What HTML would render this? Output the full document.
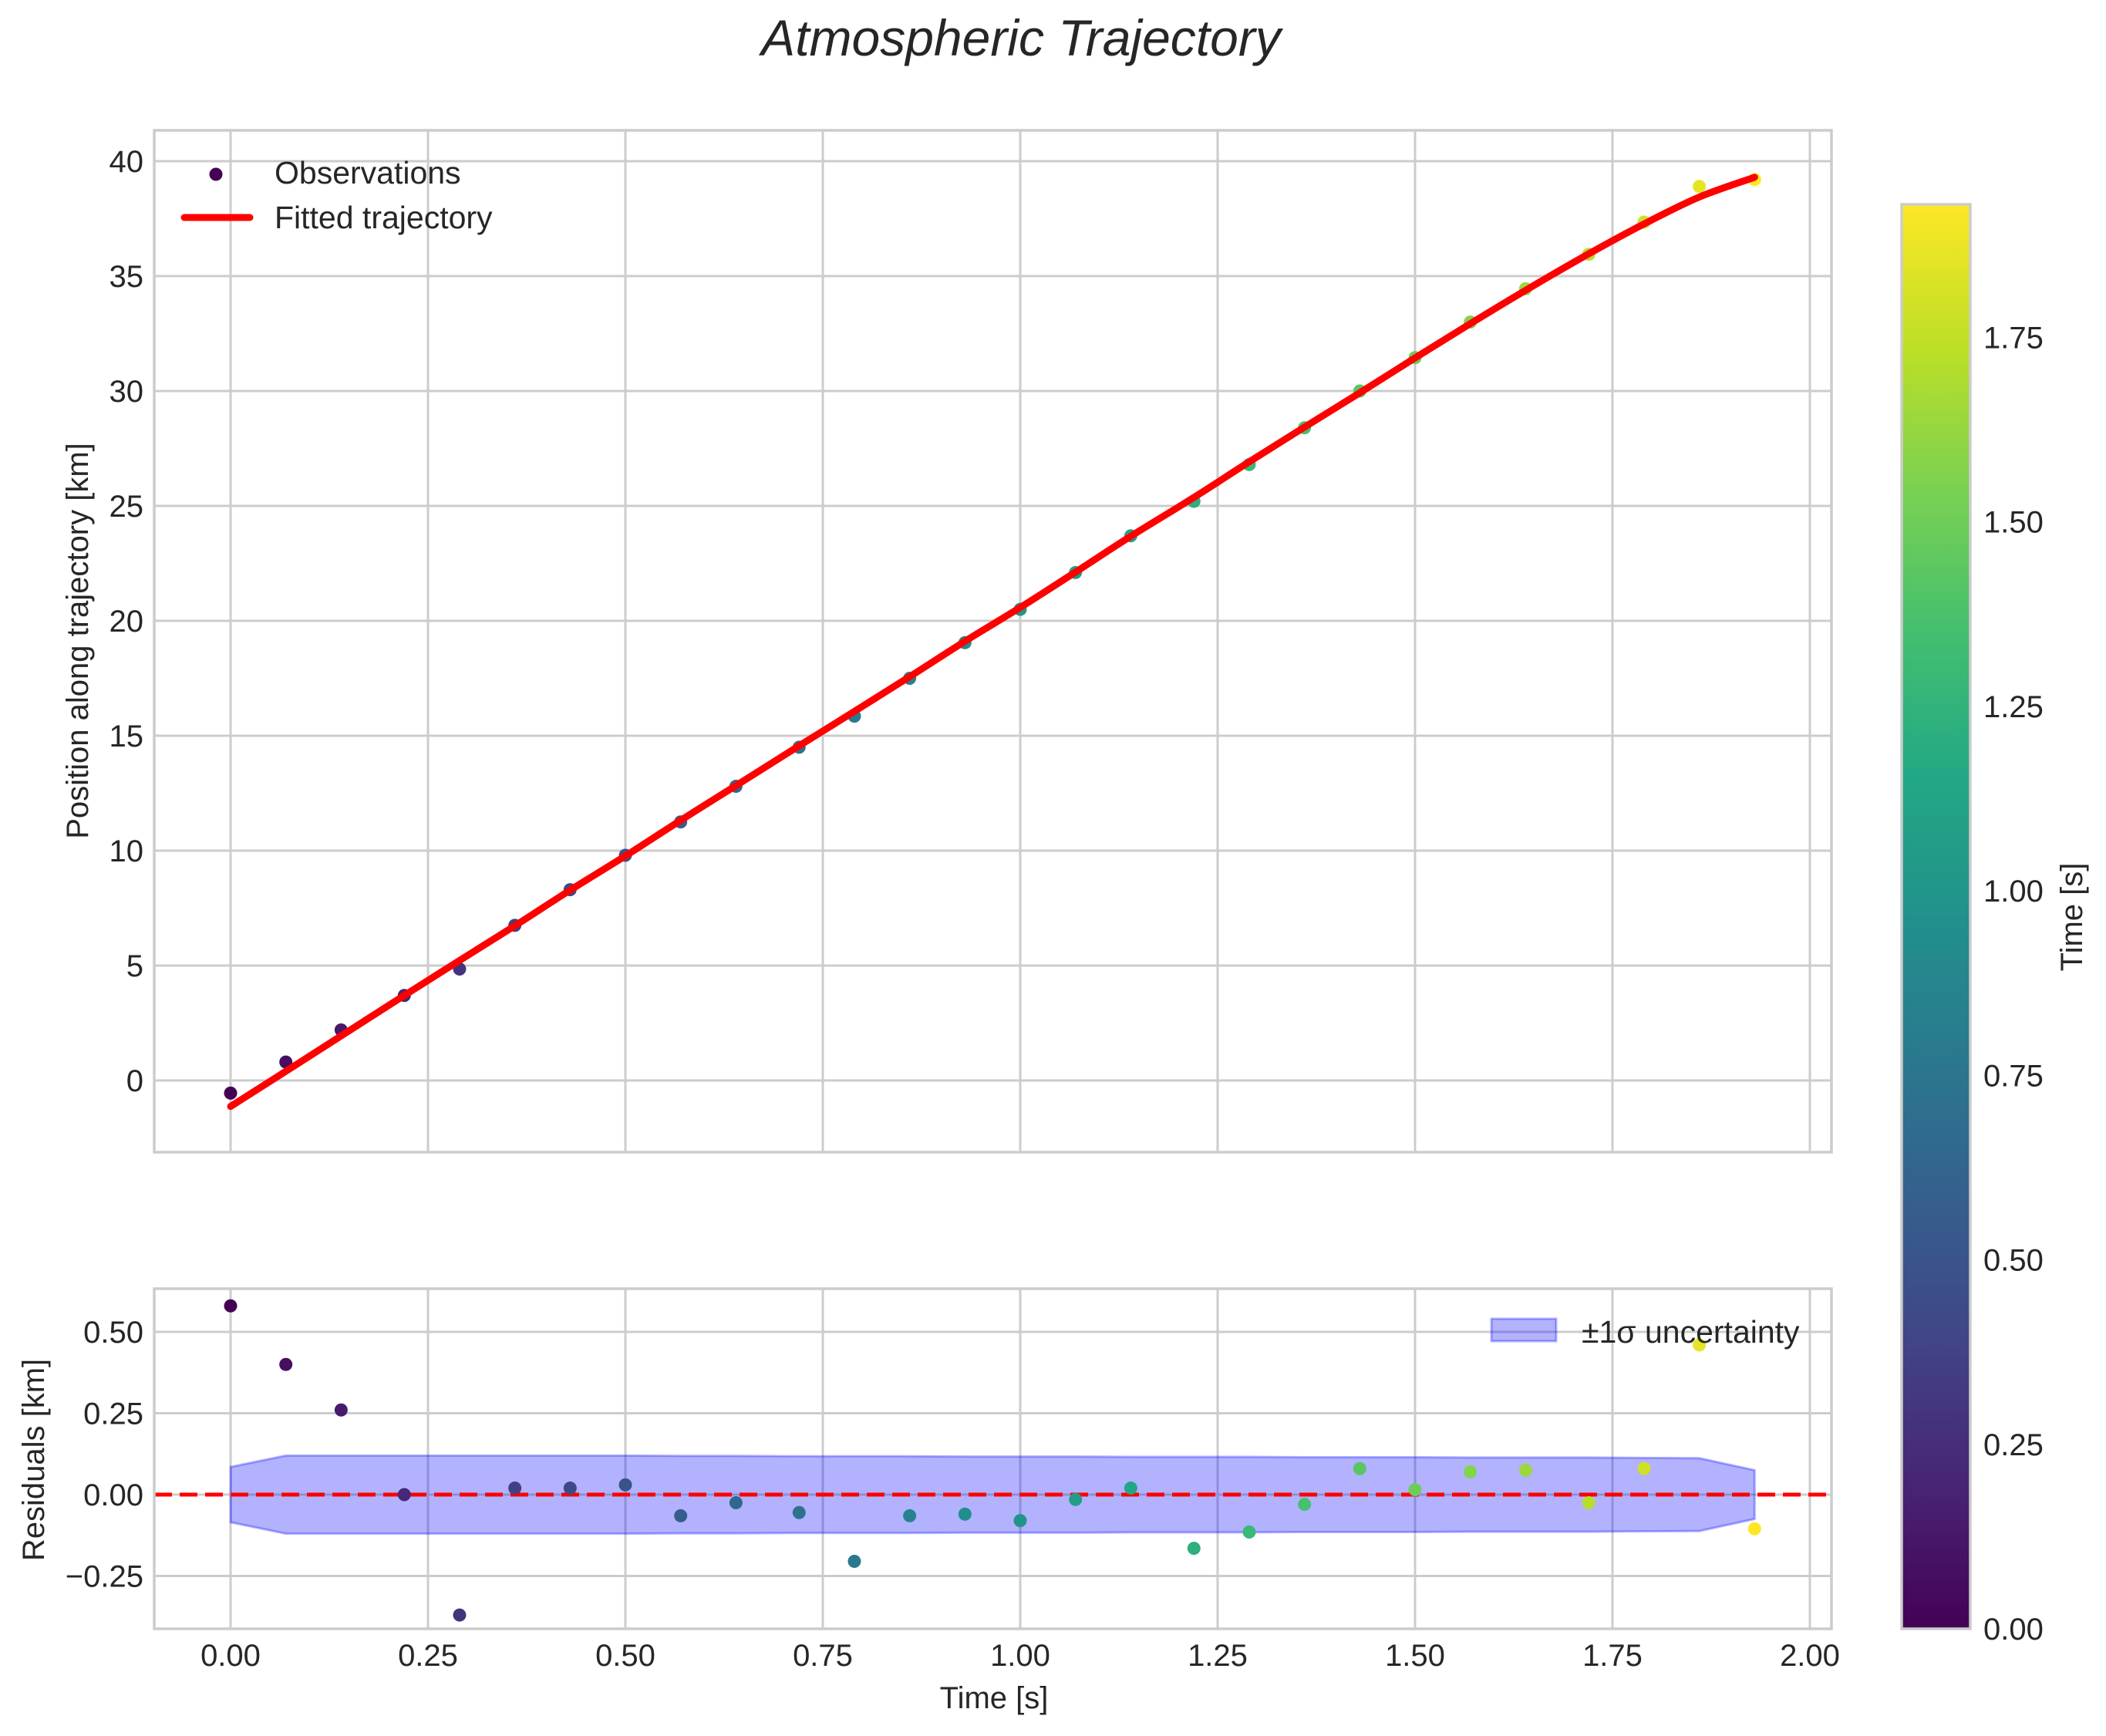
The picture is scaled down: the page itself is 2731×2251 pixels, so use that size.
<!DOCTYPE html>
<html><head><meta charset="utf-8"><style>
html,body{margin:0;padding:0;background:#fff;}
svg text{font-family:"Liberation Sans",sans-serif;fill:#262626;}
</style></head><body>
<svg id="fig" width="2731" height="2246" viewBox="0 0 2731 2246" xmlns="http://www.w3.org/2000/svg">
<defs>
<linearGradient id="vir" x1="0" y1="1" x2="0" y2="0">
<stop offset="0" stop-color="#440154"/><stop offset="0.1" stop-color="#482475"/><stop offset="0.2" stop-color="#414487"/><stop offset="0.3" stop-color="#355f8d"/><stop offset="0.4" stop-color="#2a788e"/><stop offset="0.5" stop-color="#21918c"/><stop offset="0.6" stop-color="#22a884"/><stop offset="0.7" stop-color="#44bf70"/><stop offset="0.8" stop-color="#7ad151"/><stop offset="0.9" stop-color="#bddf26"/><stop offset="1" stop-color="#fde725"/>
</linearGradient>
<clipPath id="clipTop"><rect x="200" y="169" width="2175" height="1325"/></clipPath>
<clipPath id="clipBot"><rect x="200" y="1671" width="2175" height="441"/></clipPath>
</defs>
<text x="1324" y="72" font-size="66" font-style="italic" text-anchor="middle">Atmospheric Trajectory</text>
<g id="topAx"></g>
<g id="botAx"></g>
<g id="cbar"></g>
</svg>
<script>
const times = [0,0.07,0.14,0.22,0.29,0.36,0.43,0.50,0.57,0.64,0.72,0.79,0.86,0.93,1.00,1.07,1.14,1.22,1.29,1.36,1.43,1.50,1.57,1.64,1.72,1.79,1.86,1.93];
const positions = [-0.55,0.8,2.2,3.7,4.85,6.75,8.3,9.8,11.25,12.8,14.5,15.85,17.5,19.05,20.5,22.1,23.7,25.2,26.8,28.4,30.0,31.45,33.0,34.45,35.95,37.35,38.9,39.2];
const residuals = [0.58,0.40,0.26,0.00,-0.37,0.02,0.02,0.03,-0.065,-0.025,-0.055,-0.205,-0.065,-0.06,-0.08,-0.015,0.02,-0.165,-0.115,-0.03,0.08,0.015,0.07,0.075,-0.025,0.08,0.46,-0.105];
const fitted = [-1.13,0.4,1.94,3.7,5.22,6.73,8.28,9.77,11.32,12.83,14.56,16.06,17.57,19.11,20.58,22.12,23.68,25.37,26.92,28.43,29.92,31.44,32.93,34.38,35.97,37.27,38.44,39.3];
const sigma = [0.085,0.12,0.12,0.12,0.12,0.12,0.12,0.12,0.119,0.119,0.118,0.118,0.118,0.117,0.117,0.117,0.116,0.116,0.116,0.115,0.115,0.115,0.114,0.114,0.114,0.113,0.112,0.075];
const xTicks = [0,0.25,0.5,0.75,1.0,1.25,1.5,1.75,2.0];
const xTickLabels = ["0.00","0.25","0.50","0.75","1.00","1.25","1.50","1.75","2.00"];
const yTopTicks = [0,5,10,15,20,25,30,35,40];
const yBotTicks = [-0.25,0,0.25,0.5];
const yBotTickLabels = ["\u22120.25","0.00","0.25","0.50"];
const cbTicks = [0,0.25,0.5,0.75,1.0,1.25,1.5,1.75];
const cbMax = 1.93;

const NS="http://www.w3.org/2000/svg";
const FS=40;
function mk(tag, attrs, parent){const e=document.createElementNS(NS,tag);for(const k in attrs)e.setAttribute(k,attrs[k]);parent.appendChild(e);return e;}
const X = t => 299 + t*1024;
const YT = v => 1401 - v*29.8;
const YB = v => 1938 - v*422;
const CB = v => 2112 - v*957;
const stops=[[68,1,84],[72,36,117],[65,68,135],[53,95,141],[42,120,142],[33,145,140],[34,168,132],[68,191,112],[122,209,81],[189,223,38],[253,231,37]];
function vir(f){f=Math.max(0,Math.min(1,f));const p=f*10,i=Math.min(9,Math.floor(p)),r=p-i;const a=stops[i],b=stops[i+1];return `rgb(${a.map((c,k)=>Math.round(c+(b[k]-c)*r)).join(',')})`;}
function smoothPath(pts){let d=`M${pts[0][0]},${pts[0][1]}`;for(let i=0;i<pts.length-1;i++){const p0=pts[Math.max(0,i-1)],p1=pts[i],p2=pts[i+1],p3=pts[Math.min(pts.length-1,i+2)];
const c1=[p1[0]+(p2[0]-p0[0])/6,p1[1]+(p2[1]-p0[1])/6],c2=[p2[0]-(p3[0]-p1[0])/6,p2[1]-(p3[1]-p1[1])/6];d+=` C${c1[0]},${c1[1]} ${c2[0]},${c2[1]} ${p2[0]},${p2[1]}`;}return d;}

const gTop=document.getElementById('topAx'), gBot=document.getElementById('botAx'), gCb=document.getElementById('cbar');
for(const t of xTicks){const l=mk('line',{x1:X(t),x2:X(t),y1:169,y2:1494,stroke:'#cccccc','stroke-width':3},gTop);

}
for(const v of yTopTicks){const l=mk('line',{x1:200,x2:2375,y1:YT(v),y2:YT(v),stroke:'#cccccc','stroke-width':3},gTop);


const tx=mk('text',{x:186,y:YT(v)+14,'font-size':FS,'text-anchor':'end'},gTop);tx.textContent=String(v);

}
const g1=mk('g',{'clip-path':'url(#clipTop)'},gTop);
times.forEach((t,i)=>{const c=mk('circle',{cx:X(t),cy:YT(positions[i]),r:8.5,fill:vir(t/cbMax)},g1);

});
const fl=mk('path',{d:smoothPath(times.map((t,i)=>[X(t),YT(fitted[i])])),fill:'none',stroke:'#ff0000','stroke-width':9,'stroke-linejoin':'round','stroke-linecap':'round'},g1);


const sp1=mk('rect',{x:200,y:169,width:2175,height:1325,fill:'none',stroke:'#cccccc','stroke-width':3.5},gTop);


const yl=mk('text',{x:0,y:0,'font-size':FS,'text-anchor':'middle',transform:'translate(114,831) rotate(-90)'},gTop);yl.textContent='Position along trajectory [km]';


const lg=mk('g',{},gTop);


mk('circle',{cx:280,cy:226,r:8.5,fill:'#440154'},lg);
mk('line',{x1:239,x2:324,y1:282,y2:282,stroke:'#ff0000','stroke-width':9,'stroke-linecap':'round'},lg);
let t1=mk('text',{x:356,y:238,'font-size':41},lg);t1.textContent='Observations';


let t2=mk('text',{x:356,y:296,'font-size':41},lg);t2.textContent='Fitted trajectory';



for(const t of xTicks){const l=mk('line',{x1:X(t),x2:X(t),y1:1671,y2:2112,stroke:'#cccccc','stroke-width':3},gBot);

}
xTicks.forEach((t,i)=>{const tx=mk('text',{x:X(t),y:2160,'font-size':FS,'text-anchor':'middle'},gBot);tx.textContent=xTickLabels[i];

});
yBotTicks.forEach((v,i)=>{const l=mk('line',{x1:200,x2:2375,y1:YB(v),y2:YB(v),stroke:'#cccccc','stroke-width':3},gBot);


const tx=mk('text',{x:186,y:YB(v)+14,'font-size':FS,'text-anchor':'end'},gBot);tx.textContent=yBotTickLabels[i];

});
const g2=mk('g',{'clip-path':'url(#clipBot)'},gBot);
const bandPts=times.map((t,i)=>X(t)+','+YB(sigma[i])).concat(times.slice().reverse().map((t,j)=>X(t)+','+YB(-sigma[times.length-1-j]))).join(' ');
const band=mk('polygon',{points:bandPts,fill:'rgba(0,0,255,0.3)',stroke:'rgba(0,0,255,0.3)','stroke-width':3},g2);


const zl=mk('line',{x1:200,x2:2375,y1:YB(0),y2:YB(0),stroke:'#ff0000','stroke-width':5,'stroke-dasharray':'23 10'},g2);


times.forEach((t,i)=>{const c=mk('circle',{cx:X(t),cy:YB(residuals[i]),r:8.5,fill:vir(t/cbMax)},g2);

});
const sp2=mk('rect',{x:200,y:1671,width:2175,height:441,fill:'none',stroke:'#cccccc','stroke-width':3.5},gBot);


const yl2=mk('text',{x:0,y:0,'font-size':FS,'text-anchor':'middle',transform:'translate(57,1893) rotate(-90)'},gBot);yl2.textContent='Residuals [km]';


const xl=mk('text',{x:1289,y:2215,'font-size':FS,'text-anchor':'middle'},gBot);xl.textContent='Time [s]';


const lg2=mk('g',{},gBot);


mk('rect',{x:1934,y:1710,width:84,height:29,fill:'rgba(0,0,255,0.3)',stroke:'rgba(0,0,255,0.3)','stroke-width':3},lg2);
let t3=mk('text',{x:2051,y:1741,'font-size':41},lg2);t3.textContent='\u00b11\u03c3 uncertainty';



const cr=mk('rect',{x:2466,y:265,width:89,height:1847,fill:'url(#vir)',stroke:'#cccccc','stroke-width':3.5},gCb);


for(const v of cbTicks){const tx=mk('text',{x:2572,y:CB(v)+14,'font-size':FS},gCb);tx.textContent=v.toFixed(2);

}
const cl=mk('text',{x:0,y:0,'font-size':FS,'text-anchor':'middle',transform:'translate(2700,1189) rotate(-90)'},gCb);cl.textContent='Time [s]';


</script>
</body></html>
